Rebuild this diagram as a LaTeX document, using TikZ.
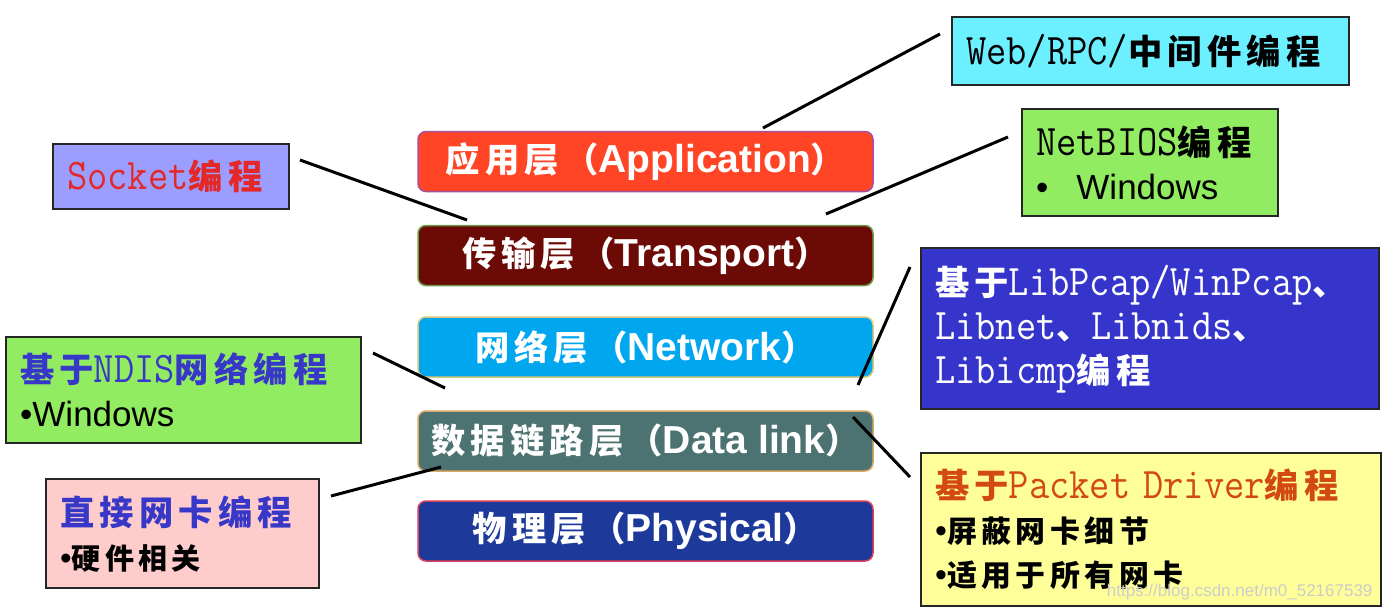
\documentclass[tikz,border=0pt]{standalone}
\usepackage{fontspec}
\setmainfont{Liberation Sans}
\newfontfamily\cjk{Noto Sans CJK SC}[Scale=0.88,LetterSpace=15]
\newfontfamily\mono{Latin Modern Mono}[Scale=1.12,FakeStretch=0.9]
\usepackage{tikz}
\usetikzlibrary{positioning}
\usepackage{xcolor}
\definecolor{AppRed}{HTML}{FF4526}
\definecolor{AppEdge}{HTML}{A8509C}
\definecolor{TraRed}{HTML}{6C0A05}
\definecolor{TraEdge}{HTML}{6E9A4A}
\definecolor{NetBlue}{HTML}{00A7EE}
\definecolor{NetEdge}{HTML}{D6C878}
\definecolor{DatTeal}{HTML}{4C7371}
\definecolor{DatEdge}{HTML}{D9A866}
\definecolor{PhyBlue}{HTML}{1D3A9B}
\definecolor{PhyEdge}{HTML}{D8405A}
\definecolor{WebCyan}{HTML}{6CEFFF}
\definecolor{LeafGreen}{HTML}{92EC62}
\definecolor{Lavender}{HTML}{9B9DFF}
\definecolor{DeepBlue}{HTML}{3535CC}
\definecolor{Blush}{HTML}{FFCCCC}
\definecolor{Butter}{HTML}{FFFF9A}
\definecolor{TitleBlue}{HTML}{3838C8}
\definecolor{SockRed}{HTML}{E42828}
\definecolor{DriverRed}{HTML}{D24A12}
\newcommand{\zh}[1]{{\cjk\bfseries#1}}
\newcommand{\lat}[1]{{\mono#1}}

\begin{document}
\begin{tikzpicture}[x=1pt,y=-1pt,
  layerbox/.style={draw,line width=1.5pt,rounded corners=8pt,minimum width=455pt,minimum height=60pt,inner sep=0pt,text=white,font=\fontsize{39}{44}\selectfont\bfseries},
  infobox/.style={draw=black!85,line width=2.4pt,anchor=north west,align=left,inner xsep=14pt,inner ysep=0pt,font=\fontsize{39}{44}\selectfont},
  link/.style={line width=3pt}]
  \useasboundingbox[fill=white] (0,0) rectangle (1385,611);
  % protocol layers
  \foreach \name/\y/\fillc/\edgec/\zhname/\enname in {app/161.5/AppRed/AppEdge/应用层/Application,tra/255.5/TraRed/TraEdge/传输层/Transport,net/347/NetBlue/NetEdge/网络层/Network,dat/441/DatTeal/DatEdge/数据链路层/Data link,phy/531/PhyBlue/PhyEdge/物理层/Physical}{
    \node[layerbox,fill=\fillc,draw=\edgec] (\name) at (645.5,\y) {\zh{\zhname（}\enname\zh{）}};
  }
  % programming interfaces
  \node[infobox,fill=WebCyan,text width=369pt,minimum height=68pt] (web) at (951,16) {\lat{Web/RPC/}\zh{中间件编程}};
  \node[infobox,fill=LeafGreen,text width=228pt,minimum height=107pt] (netbios) at (1021,108) {\lat{NetBIOS}\zh{编程}\\{\fontsize{35}{44}\selectfont •\hspace{28pt}Windows}};
  \node[infobox,fill=Lavender,text=SockRed,text width=208pt,minimum height=65pt] (socket) at (52,143) {\lat{Socket}\zh{编程}};
  \node[infobox,fill=DeepBlue,text=white,text width=430pt,minimum height=161pt] (pcap) at (920,247) {\zh{基于}\lat{LibPcap/WinPcap}\zh{、}\\\lat{Libnet}\zh{、}\lat{Libnids}\zh{、}\\\lat{Libicmp}\zh{编程}};
  \node[infobox,fill=LeafGreen,text width=327pt,minimum height=106pt] (ndis) at (5,336) {\textcolor{TitleBlue}{\zh{基于}\lat{NDIS}\zh{网络编程}}\\{\fontsize{35}{44}\selectfont •Windows}};
  \node[infobox,fill=Butter,text width=432pt,minimum height=153pt] (driver) at (920,452) {\textcolor{DriverRed}{\zh{基于}\lat{Packet Driver}\zh{编程}}\\{\fontsize{34}{44}\selectfont •\zh{屏蔽网卡细节}}\\{\fontsize{34}{44}\selectfont •\zh{适用于所有网卡}}};
  \node[infobox,fill=Blush,text width=245pt,minimum height=109pt] (direct) at (45,478) {\textcolor{TitleBlue}{\zh{直接网卡编程}}\\{\fontsize{33}{44}\selectfont •\zh{硬件相关}}};
  % connector ends
  \coordinate (webtip) at (940,34);
  \coordinate (apptip) at (763,128);
  \coordinate (biostip) at (1008,137);
  \coordinate (tratipR) at (826,214);
  \coordinate (socktip) at (300,160);
  \coordinate (tratipL) at (467,220);
  \coordinate (pcaptip) at (910,267);
  \coordinate (nettipR) at (858,385);
  \coordinate (ndistip) at (373,353);
  \coordinate (nettipL) at (445,388);
  \coordinate (dattipR) at (853,417);
  \coordinate (drivtip) at (910,477);
  \coordinate (directtip) at (331,496);
  \coordinate (dattipL) at (441,467);
  \foreach \a/\b in {webtip/apptip,biostip/tratipR,socktip/tratipL,pcaptip/nettipR,ndistip/nettipL,dattipR/drivtip,directtip/dattipL}
    \draw[link] (\a)--(\b);
  \node[anchor=east,text=gray!40,font=\fontsize{17}{17}\selectfont] (mark) at (1376,592) {https://blog.csdn.net/m0\_52167539};
\end{tikzpicture}
\end{document}
